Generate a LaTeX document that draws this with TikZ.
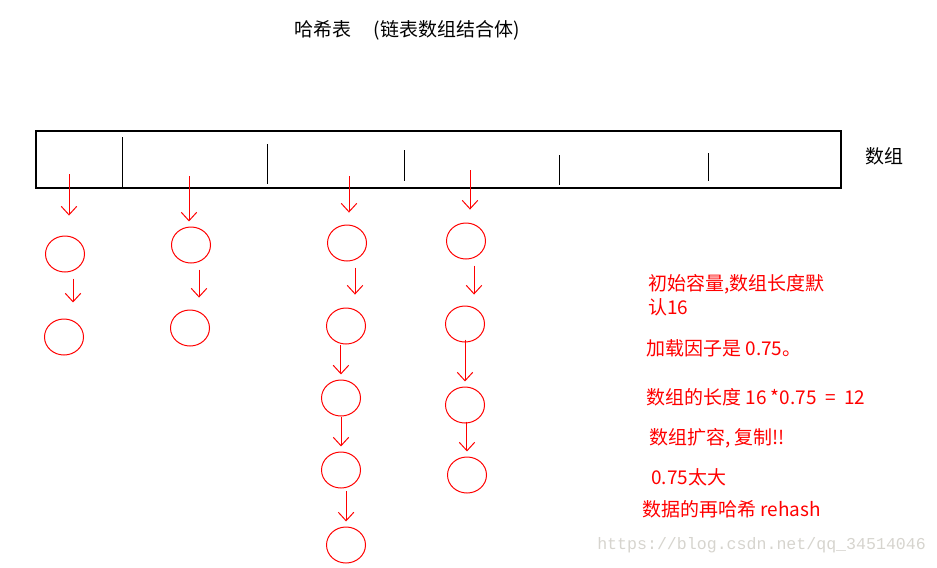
\documentclass[tikz,border=0pt]{standalone}
\usepackage{fontspec}
\newfontfamily\cjk{Noto Sans CJK SC}
\setmonofont{Liberation Mono}
\usepackage{xcolor}
\usetikzlibrary{shapes.geometric, arrows.meta, positioning}
\definecolor{markgray}{RGB}{214,212,206}

\begin{document}
\begin{tikzpicture}[x=0.025cm, y=-0.025cm,
  bucket/.style={draw=red, line width=0.7pt, ellipse, minimum width=0.975cm, minimum height=0.9cm, inner sep=0},
  link/.style={draw=red, line width=0.7pt, -{Straight Barb[length=6pt,width=11pt]}},
  txt/.style={anchor=west, inner sep=0, font=\cjk\fontsize{13.5}{17}\selectfont},
  note/.style={txt, text=red}]
\useasboundingbox (0,0) rectangle (937,567);

% Title
\node[txt] (title) at (294,30) {哈希表\hspace{16pt}(链表数组结合体)};

% Array
\node[draw, line width=1.4pt, minimum width=20.125cm, minimum height=1.425cm, inner sep=0, anchor=north west] (arr) at (35,130) {};
\foreach \x/\top/\bot in {122/137/187, 267/144/184, 404/150/181, 559/155/185, 708/153/181} {
   \draw[line width=0.7pt] (\x,\top) -- (\x,\bot);
}
\node[txt] (arrname) at (865,156) {数组};

% Buckets
\foreach \name/\x/\y in {a1/65/254, a2/64/337,
                         b1/191/245, b2/190/328,
                         c1/347/243, c2/346/326, c3/341/398, c4/341/470, c5/346/545,
                         d1/466/241, d2/465/324, d3/465/405, d4/467/475} {
   \node[bucket] (\name) at (\x,\y) {};
}

% Arrows out of the array
\coordinate (s1) at (69,174);
\coordinate (s2) at (189,176);
\coordinate (s3) at (349,176);
\coordinate (s4) at (470,170);
\foreach \s/\c/\gap in {s1/a1/14.2pt, s2/b1/3.6pt, s3/c1/8.5pt, s4/d1/9.2pt} {
   \draw[link, shorten >=\gap] (\s) -- (\s |- \c.north);
}

% Chains
\foreach \a/\b/\dx/\pre/\post in {a1/a2/5.7pt/4.3pt/11.4pt, b1/b2/5.7pt/4.3pt/8.5pt,
                                  c1/c2/5.7pt/4.3pt/9.2pt, c2/c3/-3.6pt/0pt/3.6pt,
                                  c3/c4/0pt/0pt/3.6pt, c4/c5/3.6pt/2.1pt/3.6pt,
                                  d1/d2/5.7pt/4.3pt/7.8pt, d2/d3/0pt/-2.1pt/3.6pt,
                                  d3/d4/1.4pt/-1.4pt/3.6pt} {
   \draw[link, shorten <=\pre, shorten >=\post] ([xshift=\dx]\a.south) -- ([xshift=\dx]\a.south |- \b.north);
}

% Notes
\node[note, align=left] (n1) at (648,295) {初始容量,数组长度默\\认16};
\node[note] (n2) at (646,348) {加载因子是 0.75。};
\node[note] (n3) at (646,397) {数组的长度 16 *0.75\hspace{3pt} = \hspace{3pt}12};
\node[note] (n4) at (649,438) {数组扩容, 复制!!};
\node[note] (n5) at (651,477) {0.75太大};
\node[note] (n6) at (642,509) {数据的再哈希 rehash};

% Watermark
\node[anchor=west, inner sep=0, text=markgray, font=\ttfamily\fontsize{11.8}{14}\selectfont] (mark) at (597,545) {https://blog.csdn.net/qq\_34514046};
\end{tikzpicture}
\end{document}
